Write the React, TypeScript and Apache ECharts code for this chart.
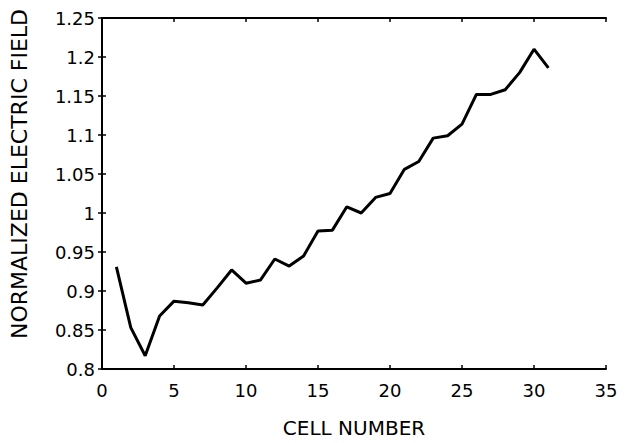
import React, { useEffect, useRef } from "react";
import * as echarts from "echarts";

const cellNumbers = [1, 2, 3, 4, 5, 6, 7, 8, 9, 10, 11, 12, 13, 14, 15, 16, 17, 18, 19, 20, 21, 22, 23, 24, 25, 26, 27, 28, 29, 30, 31];
const fieldValues = [
  0.931, 0.853, 0.817, 0.868, 0.887, 0.885, 0.882, 0.904, 0.927, 0.910,
  0.914, 0.941, 0.932, 0.945, 0.977, 0.978, 1.008, 1.000, 1.020, 1.025,
  1.056, 1.066, 1.096, 1.099, 1.114, 1.152, 1.152, 1.158, 1.180, 1.210,
  1.186,
];
const xTitle = "CELL NUMBER";
const yTitle = "NORMALIZED ELECTRIC FIELD";

export default function App() {
  const ref = useRef<HTMLDivElement>(null);
  useEffect(() => {
    document.body.style.margin = "0";
    const chart = echarts.init(ref.current!, null, { renderer: "svg" });
    const font = "DejaVu Sans";
    const fmtY = (v: number) => String(parseFloat(v.toFixed(2)));
    const xCommon = {
      type: "value" as const,
      min: 0,
      max: 35,
      interval: 5,
      splitLine: { show: false },
      axisLine: { show: true, lineStyle: { color: "#000", width: 2 } },
      axisTick: { show: true, inside: true, length: 4, lineStyle: { color: "#000", width: 1.5 } },
    };
    const yCommon = {
      type: "value" as const,
      min: 0.8,
      max: 1.25,
      interval: 0.05,
      splitLine: { show: false },
      axisLine: { show: true, lineStyle: { color: "#000", width: 2 } },
      axisTick: { show: true, inside: true, length: 4, lineStyle: { color: "#000", width: 1.5 } },
    };
    chart.setOption({
      animation: false,
      backgroundColor: "#fff",
      grid: { left: 102, right: 20, top: 18, bottom: 73 },
      xAxis: [
        {
          ...xCommon,
          position: "bottom",
          name: xTitle,
          nameLocation: "middle",
          nameGap: 49,
          nameTextStyle: { fontFamily: font, fontSize: 20, color: "#000" },
          axisLabel: { show: true, margin: 12, fontFamily: font, fontSize: 18, color: "#000" },
        },
        { ...xCommon, position: "top", axisLabel: { show: false } },
      ],
      yAxis: [
        {
          ...yCommon,
          position: "left",
          axisLabel: { show: true, margin: 7, fontFamily: font, fontSize: 18, color: "#000", formatter: fmtY },
        },
        { ...yCommon, position: "right", axisLabel: { show: false } },
      ],
      graphic: [
        {
          type: "text",
          x: 19,
          y: 174,
          rotation: Math.PI / 2,
          style: {
            text: yTitle,
            fontFamily: font,
            fontSize: 22,
            fill: "#000",
            align: "center",
            verticalAlign: "middle",
          },
        },
      ],
      series: [
        {
          type: "line",
          xAxisIndex: 0,
          yAxisIndex: 0,
          data: cellNumbers.map((x, i) => [x, fieldValues[i]]),
          showSymbol: false,
          symbol: "none",
          lineStyle: { color: "#000", width: 3 },
        },
      ],
    });
    return () => chart.dispose();
  }, []);
  return <div ref={ref} style={{ width: 626, height: 443 }} />;
}
